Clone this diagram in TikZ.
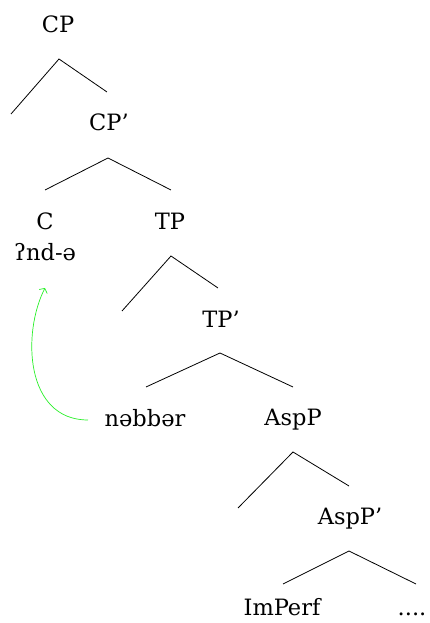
\documentclass[tikz,border=0pt]{standalone}
\usepackage{fontspec}
\usetikzlibrary{arrows.meta}
\setmainfont{DejaVu Serif}
\begin{document}
\begin{tikzpicture}[x=1pt,y=1pt,
  lbl/.style={inner sep=0pt, anchor=base, text depth=0pt, font=\fontsize{22.5}{27}\selectfont},
  br/.style={line width=0.8pt, black},
  mv/.style={line width=0.7pt, color={rgb,255:red,40;green,240;blue,40}, -{Straight Barb[length=3.5pt,width=9pt]}}]
\useasboundingbox (0,0) rectangle (429,623);
% labels
\node[lbl] (cp) at (58,590) {CP};
\node[lbl] (cpbar) at (109,492) {CP’};
\node[lbl] (c) at (45,393) {C};
\node[lbl] (cw) at (45,362) {ʔnd-ə};
\node[lbl] (tp) at (170,393) {TP};
\node[lbl] (tpbar) at (221,295) {TP’};
\node[lbl] (nb) at (145,196) {nəbbər};
\node[lbl] (asp) at (293,197) {AspP};
\node[lbl] (aspbar) at (350,98) {AspP’};
\node[lbl] (imp) at (282,7) {ImPerf};
\node[lbl] (dots) at (412,7) {....};
% branch points
\coordinate (a1) at (59,564); \coordinate (l1) at (11,509); \coordinate (r1) at (107,531);
\coordinate (a2) at (108,465); \coordinate (l2) at (45,433); \coordinate (r2) at (171,433);
\coordinate (a3) at (171,367); \coordinate (l3) at (122,312); \coordinate (r3) at (218,335);
\coordinate (a4) at (220,270); \coordinate (l4) at (146,236); \coordinate (r4) at (293,236);
\coordinate (a5) at (293,171); \coordinate (l5) at (238,115); \coordinate (r5) at (349,137);
\coordinate (a6) at (349,72);  \coordinate (l6) at (283,39);  \coordinate (r6) at (416,39);
\foreach \i in {1,...,6}{\draw[br] (l\i) -- (a\i) -- (r\i);}
% movement arrow
\coordinate (ms) at (88,203);
\coordinate (me) at (45,335);
\draw[mv] (ms) .. controls (25,203) and (22,290) .. (me);
\end{tikzpicture}
\end{document}
